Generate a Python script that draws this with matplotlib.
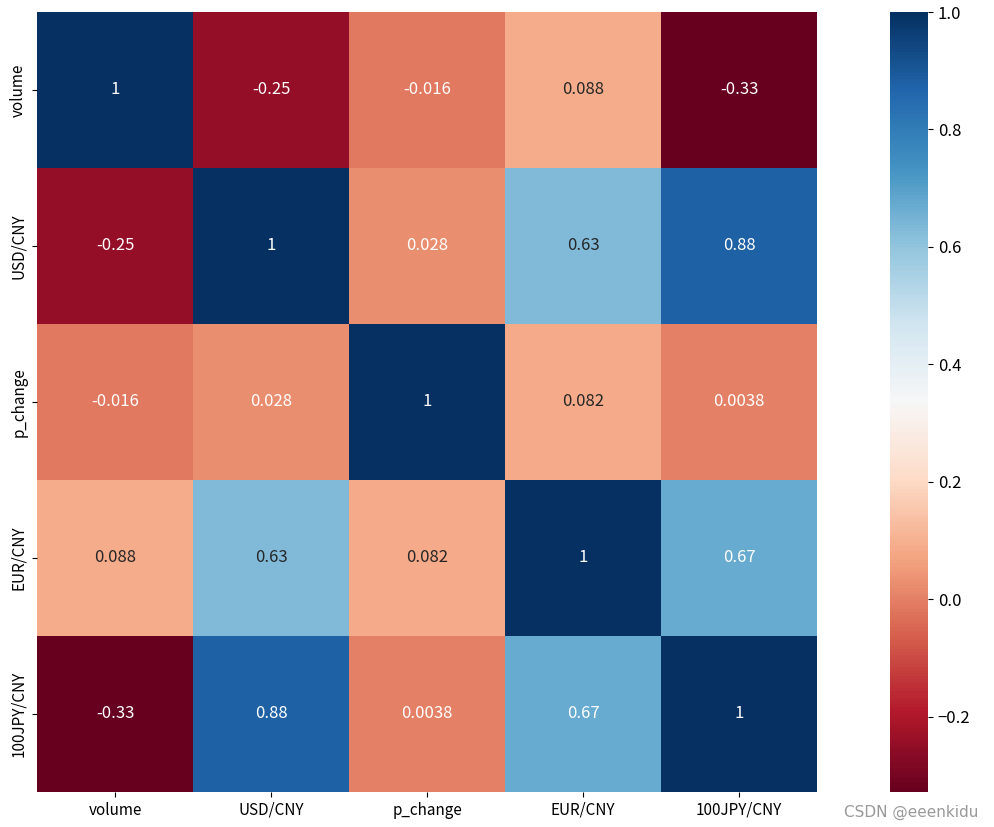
import numpy as np
import pandas as pd
import matplotlib
matplotlib.use("Agg")
import matplotlib.pyplot as plt
import seaborn as sns

labels = ["volume", "USD/CNY", "p_change", "EUR/CNY", "100JPY/CNY"]
row_volume = [1.0, -0.25, -0.016, 0.088, -0.328]
row_usd = [-0.25, 1.0, 0.028, 0.63, 0.88]
row_pchange = [-0.016, 0.028, 1.0, 0.082, 0.0038]
row_eur = [0.088, 0.63, 0.082, 1.0, 0.67]
row_jpy = [-0.328, 0.88, 0.0038, 0.67, 1.0]

corr = pd.DataFrame(
    [row_volume, row_usd, row_pchange, row_eur, row_jpy], index=labels, columns=labels
)

plt.rcParams["font.family"] = ["Noto Sans CJK SC", "DejaVu Sans"]
plt.rcParams["axes.unicode_minus"] = True

fig = plt.figure(figsize=(9.94, 8.27), dpi=100)
W, H = 994, 827
ax = fig.add_axes([37 / W, 35 / H, 780 / W, 780 / H])
cax = fig.add_axes([890 / W, 35 / H, 38 / W, 780 / H])

sns.heatmap(
    corr,
    annot=True,
    cmap="RdBu",
    ax=ax,
    cbar_ax=cax,
    annot_kws={"fontsize": 12},
)
ax.tick_params(axis="both", labelsize=11)
cax.tick_params(labelsize=12)

fig.text(978 / W, 1 - 812 / H, "CSDN @eeenkidu", ha="right", va="center",
         fontsize=11, color="#999999", family=["DejaVu Sans"])

fig.savefig("out.png", dpi=100)
